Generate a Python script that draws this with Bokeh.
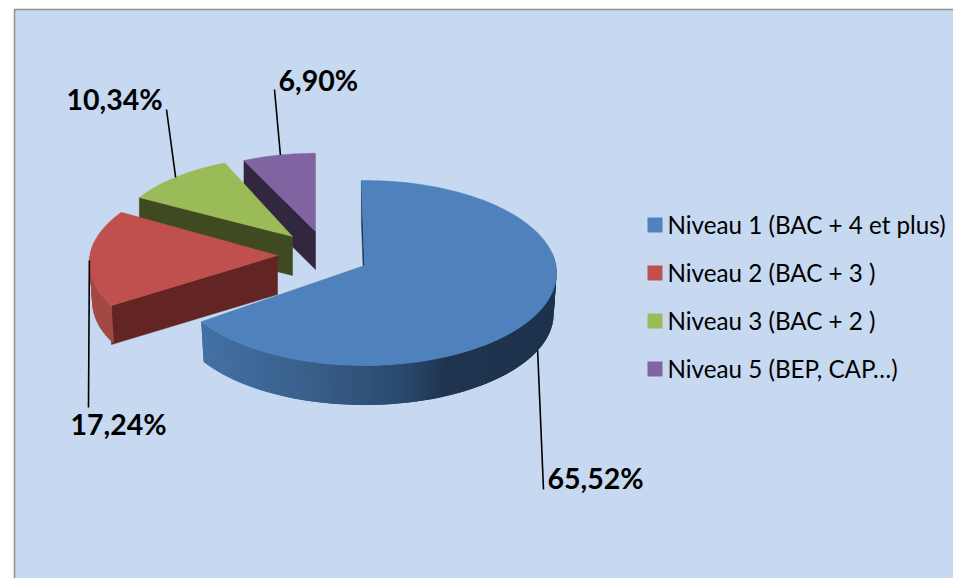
import numpy as np
from bokeh.plotting import figure
from bokeh.models import Range1d
from bokeh.core.properties import value
from bokeh.embed import file_html
from bokeh.resources import INLINE

# ---- data ----
categories = ["Niveau 1 (BAC + 4 et plus)", "Niveau 2 (BAC + 3 )", "Niveau 3 (BAC + 2 )", "Niveau 5 (BEP, CAP…)"]
shares = [65.52, 17.24, 10.34, 6.90]
labels = ["65,52%", "17,24%", "10,34%", "6,90%"]
top_colors = ["#4F81BD", "#C0504D", "#9BBB59", "#8064A2"]
cut_colors = ["#1F3550", "#632523", "#3F4A21", "#32273F"]

# ---- layout / projection of each exploded slice ----
W, H = 953, 578
apex_x = [364, 277, 292, 315]
apex_y = [265, 255, 236, 231]
scale = [1.0, 0.98, 0.94, 0.92]
depth = [41, 39, 39, 38]
turn_start = [-1.0, 2.0, 0.0, -1.0]
turn_end = [-1.5, 2.0, 1.0, 0.0]
R, RT, P = 191.4, 91.9, 0.081
leader_end = [(543, 489), (88, 407), (166, 109), (274, 89)]
label_pos = [(547, 477), (70, 423), (66, 98), (278, 79)]

p = figure(width=W, height=H, output_backend="svg", toolbar_location=None,
           x_range=Range1d(0, W), y_range=Range1d(H, 0),
           min_border=0, outline_line_color=None, background_fill_color="white",
           border_fill_color="white")
p.axis.visible = False
p.grid.visible = False

p.quad(left=[14], right=[W + 6], top=[9], bottom=[H + 6],
       fill_color="#C6D9F1", line_color="#8F8F8F", line_width=1.5)


def proj(i, deg, drop=0.0):
    t = np.radians(deg)
    u, v = np.sin(t), np.cos(t)
    w = 1 / (1 + P * v)
    s = scale[i] * (0.985 if drop else 1.0)
    return (apex_x[i] + s * R * u * w, apex_y[i] + drop - s * RT * v * w)


def mix(a, b, f):
    a = np.array([int(a[k:k + 2], 16) for k in (1, 3, 5)], float)
    b = np.array([int(b[k:k + 2], 16) for k in (1, 3, 5)], float)
    c = a + (b - a) * f
    return "#%02x%02x%02x" % tuple(int(round(q)) for q in c)


def side_color(i, x):
    if i == 0:
        stops_x = [203, 300, 400, 445, 556]
        stops_c = ["#4470A4", "#3A618D", "#2A4A6E", "#1F3550", "#1D324C"]
        k = int(np.clip(np.searchsorted(stops_x, x) - 1, 0, 3))
        return mix(stops_c[k], stops_c[k + 1], (x - stops_x[k]) / (stops_x[k + 1] - stops_x[k]))
    return {1: "#A34845", 2: "#5A6E2F", 3: "#5C4775"}[i]


starts = np.concatenate([[0], np.cumsum(shares)[:-1]]) * 3.6
ends = np.cumsum(shares) * 3.6

# back slices first, so the nearer ones cover them
for i in [3, 2, 1, 0]:
    a0, a1 = starts[i] + turn_start[i], ends[i] + turn_end[i]
    angles = np.linspace(a0, a1, int((a1 - a0) / 1.5) + 2)
    # cut face at the start radius
    cx, cy = proj(i, a0)
    p.patch([apex_x[i], cx, cx, apex_x[i]],
            [apex_y[i], cy, cy + depth[i], apex_y[i] + depth[i]],
            fill_color=cut_colors[i], line_color=cut_colors[i], line_width=0.5)
    # curved outer wall, in narrow overlapping strips
    step = angles[1] - angles[0]
    for a, b in zip(angles[:-1], angles[1:]):
        if np.cos(np.radians((a + b) / 2)) > 0.15:
            continue
        e = min(b + step, a1)
        xa, ya = proj(i, a)
        xb, yb = proj(i, e)
        xc, yc = proj(i, e, depth[i])
        xd, yd = proj(i, a, depth[i])
        col = side_color(i, (xa + proj(i, b)[0]) / 2)
        p.patch([xa, xb, xc, xd], [ya, yb, yc, yd], fill_color=col, line_color=None)
    # top face
    xs, ys = proj(i, angles)
    p.patch(np.r_[apex_x[i], xs], np.r_[apex_y[i], ys],
            fill_color=top_colors[i], line_color=top_colors[i], line_width=0.5)

# leader lines and value labels
for i in range(4):
    mid = (starts[i] + ends[i]) / 2
    lx, ly = proj(i, mid, depth[i] if i == 0 else 0)
    ex, ey = leader_end[i]
    p.line([lx, ex], [ly, ey], line_color="black", line_width=1.6)
    p.text([label_pos[i][0]], [label_pos[i][1]], text=[labels[i]], text_font=value("Lato"),
           text_font_style="bold", text_font_size="28.5px", text_color="black",
           text_baseline="alphabetic", text_align="left")

# legend
for i, name in enumerate(categories):
    y = 224.5 + i * 48
    p.scatter([654.5], [y], marker="square", size=15, fill_color=top_colors[i], line_color=None)
    p.text([667], [y - 1], text=[name], text_font=value("Lato"), text_font_size="24.2px",
           text_color="black", text_baseline="alphabetic", text_align="left")

open("out.html", "w").write(file_html(p, INLINE))
